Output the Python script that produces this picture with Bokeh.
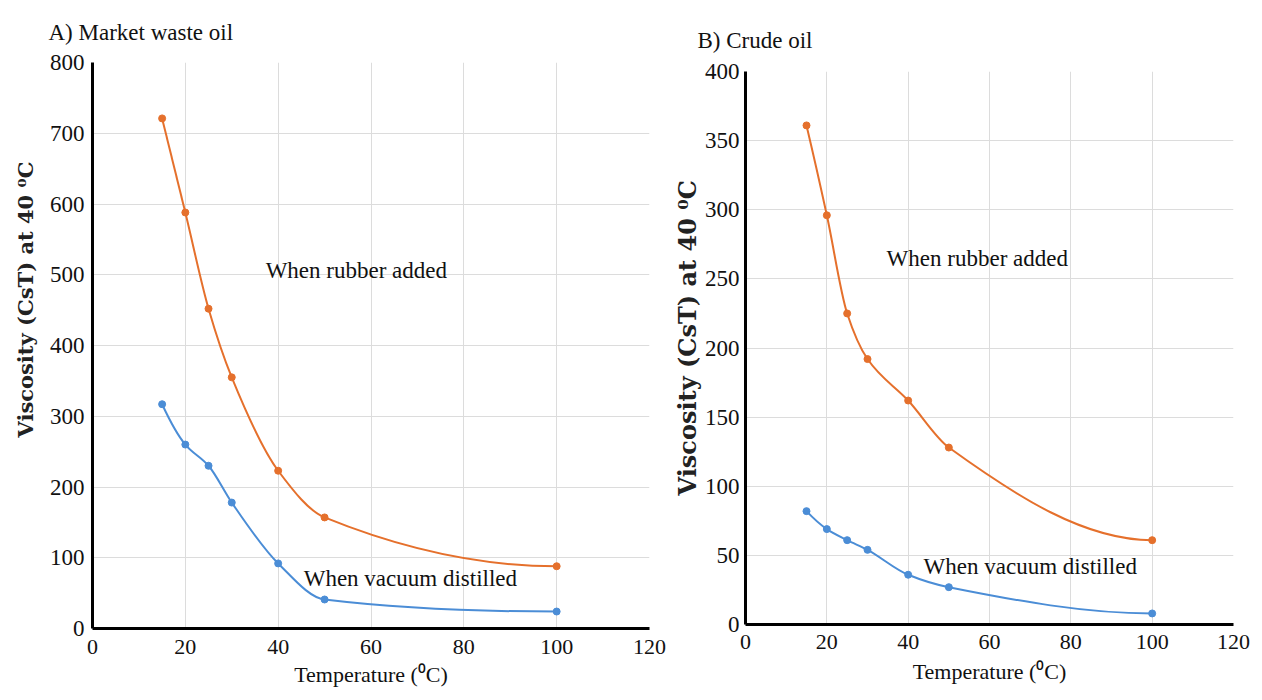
import numpy as np
from bokeh.plotting import figure
from bokeh.layouts import row, column
from bokeh.models import Range1d, SingleIntervalTicker, Title
from bokeh.embed import file_html
from bokeh.resources import INLINE

# ---- data ----
temps = [15, 20, 25, 30, 40, 50, 100]
a_rubber = [721, 588, 452, 355, 223, 157, 88]
a_vacuum = [317, 260, 230, 178, 92, 41, 24]
b_rubber = [361, 296, 225, 192, 162, 128, 61]
b_vacuum = [82, 69, 61, 54, 36, 27, 8]

title_a = "A)  Market waste oil"
title_b = "B)  Crude oil"
y_label = "Viscosity (CsT) at 40 \u2070C"
x_label = "Temperature (\u2070C)"
note_rubber = "When rubber added"
note_vacuum = "When vacuum distilled"

ORANGE = "#E5702C"
BLUE = "#4B8DD6"
SERIF = "Liberation Serif"


def pchip_slopes(x, y):
    x = np.asarray(x, float)
    y = np.asarray(y, float)
    n = len(x)
    h = np.diff(x)
    d = np.diff(y) / h
    m = np.zeros(n)
    for k in range(1, n - 1):
        if d[k - 1] * d[k] <= 0:
            m[k] = 0.0
        else:
            w1 = 2 * h[k] + h[k - 1]
            w2 = h[k] + 2 * h[k - 1]
            m[k] = (w1 + w2) / (w1 / d[k - 1] + w2 / d[k])

    def end(h0, h1, d0, d1):
        s = ((2 * h0 + h1) * d0 - h0 * d1) / (h0 + h1)
        if np.sign(s) != np.sign(d0):
            s = 0.0
        elif np.sign(d0) != np.sign(d1) and abs(s) > abs(3 * d0):
            s = 3 * d0
        return s

    m[0] = end(h[0], h[1], d[0], d[1])
    m[-1] = end(h[-1], h[-2], d[-1], d[-2])
    return m


def smooth_line(p, x, y, color):
    x = np.asarray(x, float)
    y = np.asarray(y, float)
    m = pchip_slopes(x, y)
    h = np.diff(x)
    p.bezier(x0=x[:-1], y0=y[:-1], x1=x[1:], y1=y[1:],
             cx0=x[:-1] + h / 3, cy0=y[:-1] + m[:-1] * h / 3,
             cx1=x[1:] - h / 3, cy1=y[1:] - m[1:] * h / 3,
             line_color=color, line_width=2)
    p.scatter(x, y, size=7, color=color)


def make_panel(w, h, ymax, yint, borders, rubber, vacuum,
               title, title_off, title_standoff,
               ylab_off, ylab_size, ylab_standoff, ytick_standoff,
               xstand, rub_pos, vac_pos):
    bl, br, bt, bb = borders
    p = figure(width=w, height=h, output_backend="svg",
               toolbar_location=None, x_range=Range1d(0, 120),
               y_range=Range1d(0, ymax),
               min_border_left=bl, min_border_right=br,
               min_border_top=bt, min_border_bottom=bb)
    p.outline_line_color = None
    p.background_fill_color = "white"
    p.border_fill_color = "white"

    p.title.text = title
    p.title.align = "left"
    p.title.vertical_align = "middle"
    p.title.offset = title_off
    p.title.text_font = SERIF
    p.title.text_font_size = "23px"
    p.title.text_font_style = "normal"
    p.title.text_color = "#111111"
    p.title.standoff = title_standoff

    p.xaxis.ticker = SingleIntervalTicker(interval=20)
    p.yaxis.ticker = SingleIntervalTicker(interval=yint)
    for ax in (p.xaxis[0], p.yaxis[0]):
        ax.axis_line_color = "black"
        ax.axis_line_width = 3
        ax.major_tick_line_color = None
        ax.minor_tick_line_color = None
        ax.major_label_text_font = SERIF
        ax.major_label_text_color = "#111111"
    p.yaxis.major_label_text_font_size = "23px"
    p.xaxis.major_label_text_font_size = "22px"
    p.xaxis.major_label_standoff = xstand[0]
    p.yaxis.major_label_standoff = ytick_standoff
    p.xaxis.axis_label = x_label
    p.xaxis.axis_label_text_font = SERIF
    p.xaxis.axis_label_text_font_size = "22px"
    p.xaxis.axis_label_text_font_style = "normal"
    p.xaxis.axis_label_text_color = "#111111"
    p.xaxis.axis_label_standoff = xstand[1]
    p.grid.grid_line_color = "#dcdcdc"
    p.grid.grid_line_width = 1

    ylab = Title(text=y_label, align="left", offset=ylab_off,
                 text_font="DejaVu Serif", text_font_size=ylab_size,
                 text_font_style="bold", text_color="#222222",
                 standoff=ylab_standoff)
    p.add_layout(ylab, "left")

    smooth_line(p, temps, rubber, ORANGE)
    smooth_line(p, temps, vacuum, BLUE)

    p.text(x=[rub_pos[0]], y=[rub_pos[1]], text=[note_rubber],
           text_font={"value": SERIF}, text_font_size="23px",
           text_baseline="middle", text_align="left", text_color="#111111")
    p.text(x=[vac_pos[0]], y=[vac_pos[1]], text=[note_vacuum],
           text_font={"value": SERIF}, text_font_size="23px",
           text_baseline="middle", text_align="left", text_color="#111111")
    return p


pa = make_panel(670, 698, 800, 100, (92, 21, 62, 70), a_rubber, a_vacuum,
                title_a, -44, 34, 191, "21px", 17, 2, (5, 5),
                (37.3, 506), (45.5, 71))
pb = make_panel(584, 698, 400, 50, (73, 21, 71, 74), b_rubber, b_vacuum,
                title_b, -48, 36, 129, "24px", 0, 0, (4, 7),
                (34.7, 265), (43.8, 42))

layout = row(column(pa), column(pb))
open("out.html", "w").write(file_html(layout, INLINE))
